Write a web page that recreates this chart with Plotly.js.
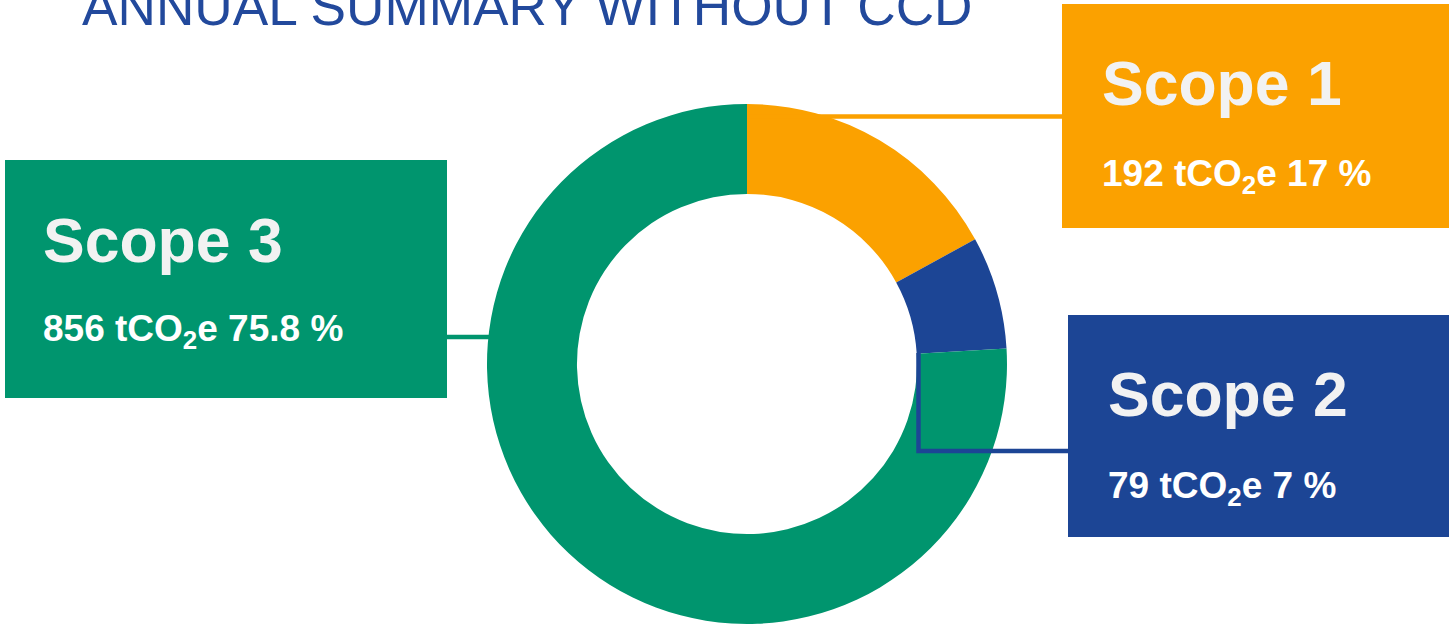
<!DOCTYPE html>
<html>
<head>
<meta charset="utf-8">
<script src="https://cdn.plot.ly/plotly-3.0.1.min.js"></script>
<style>html,body{margin:0;padding:0;background:#fff;}#chart{width:1449px;height:628px;}</style>
</head>
<body>
<div id="chart"></div>
<script>
// ---- data ----
const categories = ['Scope 1', 'Scope 2', 'Scope 3'];
const values = [192, 79, 856];           // tCO2e
const percentLabels = ['17', '7', '75.8'];
const sliceColors = ['#FBA100', '#1C4595', '#00956E'];
const chartTitle = 'ANNUAL SUMMARY WITHOUT CCD';

// ---- layout helpers (pixel -> paper) ----
const W = 1449, H = 628;
const X = p => p / W;
const Y = p => 1 - p / H;

const FONT = '"Liberation Sans", Arial, Helvetica, sans-serif';

const trace = {
  type: 'pie',
  labels: categories,
  values: values,
  sort: false,
  direction: 'clockwise',
  rotation: 0,
  hole: 0.654,
  textinfo: 'none',
  hoverinfo: 'skip',
  showlegend: false,
  marker: { colors: sliceColors, line: { width: 0 } },
  domain: { x: [X(487), X(1007)], y: [Y(624), Y(104)] }
};

// callout boxes: [left, top, right, bottom] in px, title centre y, value centre y, text left x
const boxes = [
  { i: 0, rect: [1062, 4, 1449, 228], tx: 1100, ty: 83, vy: 176 },
  { i: 1, rect: [1068, 315, 1449, 537], tx: 1106, ty: 394, vy: 488 },
  { i: 2, rect: [5, 160, 447, 398], tx: 41, ty: 240, vy: 331 }
];

const shapes = [];
const annotations = [];
boxes.forEach(b => {
  shapes.push({
    type: 'rect', xref: 'paper', yref: 'paper',
    x0: X(b.rect[0]), x1: X(b.rect[2]), y0: Y(b.rect[3]), y1: Y(b.rect[1]),
    fillcolor: sliceColors[b.i], line: { width: 0 }
  });
  annotations.push({
    xref: 'paper', yref: 'paper', x: X(b.tx), y: Y(b.ty),
    xanchor: 'left', yanchor: 'middle', showarrow: false,
    text: '<b>' + categories[b.i] + '</b>',
    font: { family: FONT, size: 62.5, color: '#F2F2F2' }
  });
  annotations.push({
    xref: 'paper', yref: 'paper', x: X(b.tx), y: Y(b.vy),
    xanchor: 'left', yanchor: 'middle', showarrow: false,
    text: '<b>' + values[b.i] + ' tCO<sub>2</sub>e ' + percentLabels[b.i] + ' %</b>',
    font: { family: FONT, size: 37, color: '#FFFFFF' }
  });
});

// connector lines
shapes.push({
  type: 'line', xref: 'paper', yref: 'paper',
  x0: X(747), x1: X(1062), y0: Y(116.5), y1: Y(116.5),
  line: { color: sliceColors[0], width: 4.5 }
});
shapes.push({
  type: 'path', xref: 'paper', yref: 'paper',
  path: 'M ' + X(918.5) + ' ' + Y(353) + ' L ' + X(918.5) + ' ' + Y(451) + ' L ' + X(1068) + ' ' + Y(451),
  line: { color: sliceColors[1], width: 4.5 }
});
shapes.push({
  type: 'line', xref: 'paper', yref: 'paper',
  x0: X(447), x1: X(490), y0: Y(337), y1: Y(337),
  line: { color: sliceColors[2], width: 4.5 }
});

const layout = {
  width: W, height: H,
  margin: { l: 0, r: 0, t: 0, b: 0 },
  paper_bgcolor: '#FFFFFF',
  plot_bgcolor: '#FFFFFF',
  title: {
    text: chartTitle,
    x: X(82), xanchor: 'left', xref: 'paper',
    y: Y(6.5), yanchor: 'middle', yref: 'container',
    font: { family: FONT, size: 53.2, color: '#22499C' }
  },
  shapes: shapes,
  annotations: annotations
};

Plotly.newPlot('chart', [trace], layout, { displayModeBar: false, staticPlot: true });
</script>
</body>
</html>
